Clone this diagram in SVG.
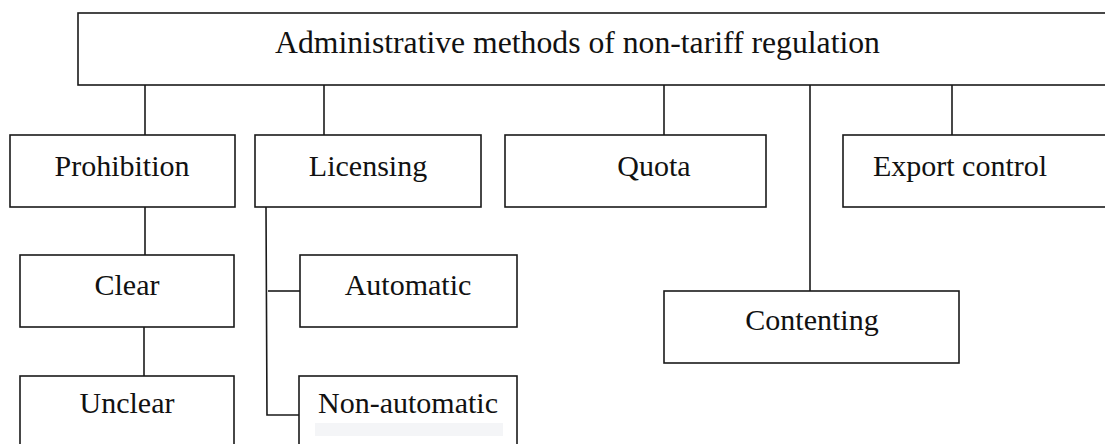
<svg xmlns="http://www.w3.org/2000/svg" width="1105" height="444" viewBox="0 0 1105 444">
  <style>
    .box { fill: #ffffff; stroke: #1a1a1a; stroke-width: 1.6; }
    .lbl { font-family: "Liberation Serif", "Times New Roman", serif; font-size: 30px; fill: #111111; text-anchor: middle; }
    .title { font-size: 31.7px; }
    .link { fill: none; stroke: #1a1a1a; stroke-width: 1.6; }
  </style>
  <rect width="1105" height="444" fill="#ffffff"/>

  <!-- connectors -->
  <g id="connectors">
    <line class="link" x1="145" y1="85" x2="145" y2="135"/>
    <line class="link" x1="324" y1="85" x2="324" y2="135"/>
    <line class="link" x1="664" y1="85" x2="664" y2="135"/>
    <line class="link" x1="810" y1="85" x2="810" y2="291"/>
    <line class="link" x1="952" y1="85" x2="952" y2="135"/>
    <line class="link" x1="145" y1="207" x2="145" y2="255"/>
    <line class="link" x1="144" y1="327" x2="144" y2="376"/>
    <path class="link" d="M266 207 L267 415 L299 415"/>
    <line class="link" x1="268" y1="291" x2="300" y2="291"/>
  </g>

  <g id="root">
    <rect class="box" x="78" y="13" width="1040" height="72"/>
    <text class="lbl title" x="577.5" y="53">Administrative methods of non-tariff regulation</text>
  </g>
  <g id="prohibition">
    <rect class="box" x="10" y="135" width="225" height="72"/>
    <text class="lbl" x="122" y="176">Prohibition</text>
  </g>
  <g id="licensing">
    <rect class="box" x="255" y="135" width="226" height="72"/>
    <text class="lbl" x="368" y="176">Licensing</text>
  </g>
  <g id="quota">
    <rect class="box" x="505" y="135" width="261" height="72"/>
    <text class="lbl" x="654" y="176">Quota</text>
  </g>
  <g id="export-control">
    <rect class="box" x="843" y="135" width="280" height="72"/>
    <text class="lbl" x="960" y="176">Export control</text>
  </g>
  <g id="clear">
    <rect class="box" x="20" y="255" width="214" height="72"/>
    <text class="lbl" x="127" y="295">Clear</text>
  </g>
  <g id="unclear">
    <rect class="box" x="20" y="376" width="214" height="80"/>
    <text class="lbl" x="127" y="413">Unclear</text>
  </g>
  <g id="automatic">
    <rect class="box" x="300" y="255" width="217" height="72"/>
    <text class="lbl" x="408" y="295">Automatic</text>
  </g>
  <g id="non-automatic">
    <rect class="box" x="299" y="376" width="218" height="80"/>
    <rect x="315" y="423" width="188" height="13" fill="#f4f5f7"/>
    <text class="lbl" x="408" y="413">Non-automatic</text>
  </g>
  <g id="contenting">
    <rect class="box" x="664" y="291" width="295" height="72"/>
    <text class="lbl" x="812" y="330">Contenting</text>
  </g>
</svg>
